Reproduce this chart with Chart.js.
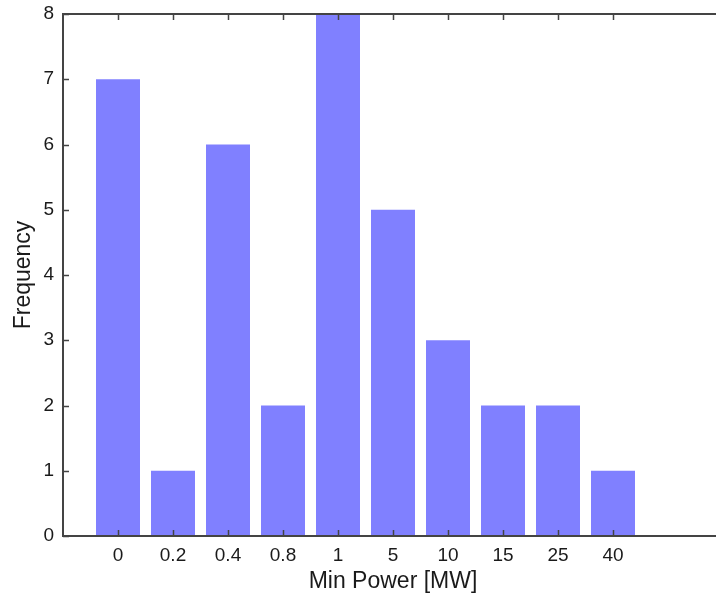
<!DOCTYPE html>
<html>
<head>
<meta charset="utf-8">
<title>Min Power histogram</title>
<script src="https://cdn.jsdelivr.net/npm/chart.js@4/dist/chart.umd.min.js"></script>
<style>
    html, body { margin: 0; padding: 0; background: #fff; overflow: hidden; }
    #wrap { width: 716px; height: 599px; overflow: hidden; }
    canvas { display: block; }
</style>
</head>
<body>
<div id="wrap">
    <canvas id="powerChart" width="730" height="599"></canvas>
</div>
<script>
// Categories (x tick labels) and bar heights
const categories = ['0', '0.2', '0.4', '0.8', '1', '5', '10', '15', '25', '40'];
const frequency = [7, 1, 6, 2, 8, 5, 3, 2, 2, 1];
const yTicks = [0, 1, 2, 3, 4, 5, 6, 7, 8];

(function () {
    'use strict';

    const axisColor = '#444';
    const textColor = '#1a1a1a';
    const fontFamily = 'Arial, "Liberation Sans", Helvetica, sans-serif';

    // MATLAB-style box: frame lines with inward ticks
    const matlabFrame = {
        id: 'matlabFrame',
        afterDatasetsDraw(chart) {
            const { ctx, chartArea: a, scales } = chart;
            const tl = 6;
            ctx.save();
            ctx.strokeStyle = axisColor;
            ctx.lineWidth = 2;
            ctx.beginPath();
            ctx.rect(a.left, a.top, a.right - a.left, a.bottom - a.top);
            ctx.stroke();

            ctx.lineWidth = 1.5;
            ctx.beginPath();
            categories.forEach(function (c, i) {
                const x = Math.round(scales.x.getPixelForValue(i)) + 0.5;
                ctx.moveTo(x, a.bottom);
                ctx.lineTo(x, a.bottom - tl);
                ctx.moveTo(x, a.top);
                ctx.lineTo(x, a.top + tl);
            });
            yTicks.forEach(function (v) {
                const y = Math.round(scales.y.getPixelForValue(v)) + 0.5;
                ctx.moveTo(a.left, y);
                ctx.lineTo(a.left + tl, y);
                ctx.moveTo(a.right, y);
                ctx.lineTo(a.right - tl, y);
            });
            ctx.stroke();
            ctx.restore();
        }
    };

    const ctx = document.getElementById('powerChart').getContext('2d');
    // eslint-disable-next-line no-unused-vars
    const chart = new Chart(ctx, {
        type: 'bar',
        data: {
            datasets: [{
                data: frequency.map(function (v, i) { return { x: i, y: v }; }),
                backgroundColor: '#8080ff',
                borderWidth: 0,
                barPercentage: 0.8,
                categoryPercentage: 1.0
            }]
        },
        options: {
            responsive: false,
            animation: false,
            devicePixelRatio: 1,
            layout: { padding: { left: 0, right: 7, top: 14, bottom: 0 } },
            plugins: {
                legend: { display: false },
                tooltip: { enabled: false }
            },
            scales: {
                x: {
                    type: 'linear',
                    offset: false,
                    min: -1,
                    max: 11,
                    afterBuildTicks: function (scale) {
                        scale.ticks = categories.map(function (c, i) { return { value: i }; });
                    },
                    afterFit: function (scale) {
                        scale.height = 63;
                        scale.paddingLeft = 0;
                        scale.paddingRight = 0;
                    },
                    grid: { display: false, drawTicks: false },
                    border: { display: false },
                    ticks: {
                        autoSkip: false,
                        maxRotation: 0,
                        padding: 8,
                        color: textColor,
                        font: { family: fontFamily, size: 19 },
                        callback: function (v) { return categories[v]; }
                    },
                    title: {
                        display: true,
                        text: 'Min Power [MW]',
                        color: textColor,
                        font: { family: fontFamily, size: 23 },
                        padding: { top: 0, bottom: 4 }
                    }
                },
                y: {
                    min: 0,
                    max: 8,
                    afterBuildTicks: function (scale) {
                        scale.ticks = yTicks.map(function (v) { return { value: v }; });
                    },
                    afterFit: function (scale) {
                        scale.width = 63;
                        scale.paddingTop = 0;
                        scale.paddingBottom = 0;
                    },
                    grid: { display: false, drawTicks: false },
                    border: { display: false },
                    ticks: {
                        padding: 9,
                        color: textColor,
                        font: { family: fontFamily, size: 19 }
                    },
                    title: {
                        display: true,
                        text: 'Frequency',
                        color: textColor,
                        font: { family: fontFamily, size: 23 },
                        padding: { top: 10, bottom: 0 }
                    }
                }
            }
        },
        plugins: [matlabFrame]
    });
})();
</script>
</body>
</html>
